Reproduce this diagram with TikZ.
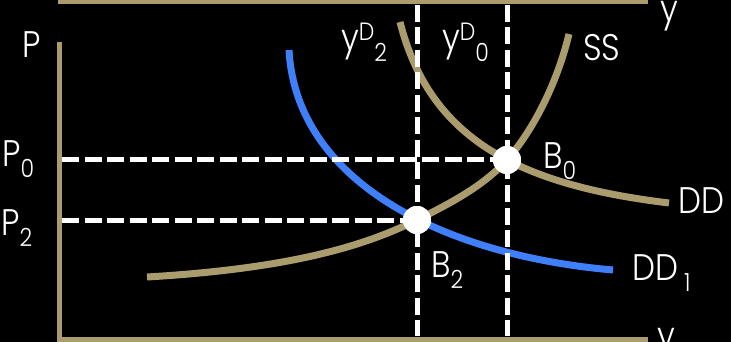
\documentclass[tikz,border=0pt]{standalone}
\usepackage{fontspec}
\setmainfont{Poppins}[UprightFont={* Light}, FakeStretch=0.88]
\definecolor{axistan}{HTML}{AA9C6D}
\definecolor{shiftblue}{HTML}{3F7FFA}
\newcommand\lo[1]{\raisebox{-11pt}{\fontsize{25}{25}\selectfont #1}}
\newcommand\hi[1]{\raisebox{10pt}{\fontsize{25}{25}\selectfont #1}}

\begin{document}
\begin{tikzpicture}[
		x=1pt, y=-1pt,
		axis/.style={draw=axistan, line width=5pt},
		curve/.style={draw=#1, line width=7pt},
		guide/.style={draw=white, line width=5pt, dash pattern=on 17pt off 5.5pt},
		dot/.style={circle, fill=white, minimum size=28pt, inner sep=0pt},
		txt/.style={text=white, font=\fontsize{37}{40}\selectfont, inner sep=0pt, anchor=base west},
	]

	\fill[black] (0,0) rectangle (731,342);
	\useasboundingbox (0,0) rectangle (731,342);

	% axes
	\draw[axis] (58,2) -- (648,2);
	\draw[axis] (59.5,42) -- (59.5,339) -- (648,339);

	% curves
	\draw[curve=shiftblue] (289,50) .. controls (296,180) and (440,255) .. (613,270);
	\draw[curve=axistan] (400,22) .. controls (430,140) and (520,185) .. (669,203);
	\draw[curve=axistan] (147,277) .. controls (300,268) and (370,243) .. (417,220)
		.. controls (455,201) and (484,185) .. (507,160)
		.. controls (535,128) and (558,80) .. (569,34);

	% equilibria
	\node[dot] (b0) at (507,160) {};
	\node[dot] (b2) at (417,220) {};

	\coordinate (p0) at (62,160);
	\coordinate (p2) at (62,220);
	\coordinate (top2) at (417,5);
	\coordinate (bot2) at (417,336);
	\coordinate (top0) at (507,5);
	\coordinate (bot0) at (507,336);

	\draw[guide] (p0) -- (b0.center);
	\draw[guide] (p2) -- (b2.center);
	\draw[guide] (top2) -- (bot2);
	\draw[guide] (top0) -- (bot0);
	\node[dot] at (b0) {};
	\node[dot] at (b2) {};

	% labels
	\node[txt] (lp) at (22,58) {P};
	\node[txt] (lytop) at (660,22) {y};
	\node[txt] (lybot) at (657,348) {y};
	\node[txt] (lp0) at (2,167) {P\lo{0}};
	\node[txt] (lp2) at (1,235) {P\lo{2}};
	\node[txt] (lyd2) at (341,51) {y\hi{D}\lo{2}};
	\node[txt] (lyd0) at (442,51) {y\hi{D}\lo{0}};
	\node[txt] (lss) at (583,61) {SS};
	\node[txt] (lb0) at (543,168) {B\lo{0}};
	\node[txt] (lb2) at (431,277) {B\lo{2}};
	\node[txt] (ldd) at (678,213) {DD};
	\node[txt] (ldd1) at (632,280) {DD\hspace{6pt}\lo{1}};

\end{tikzpicture}
\end{document}
